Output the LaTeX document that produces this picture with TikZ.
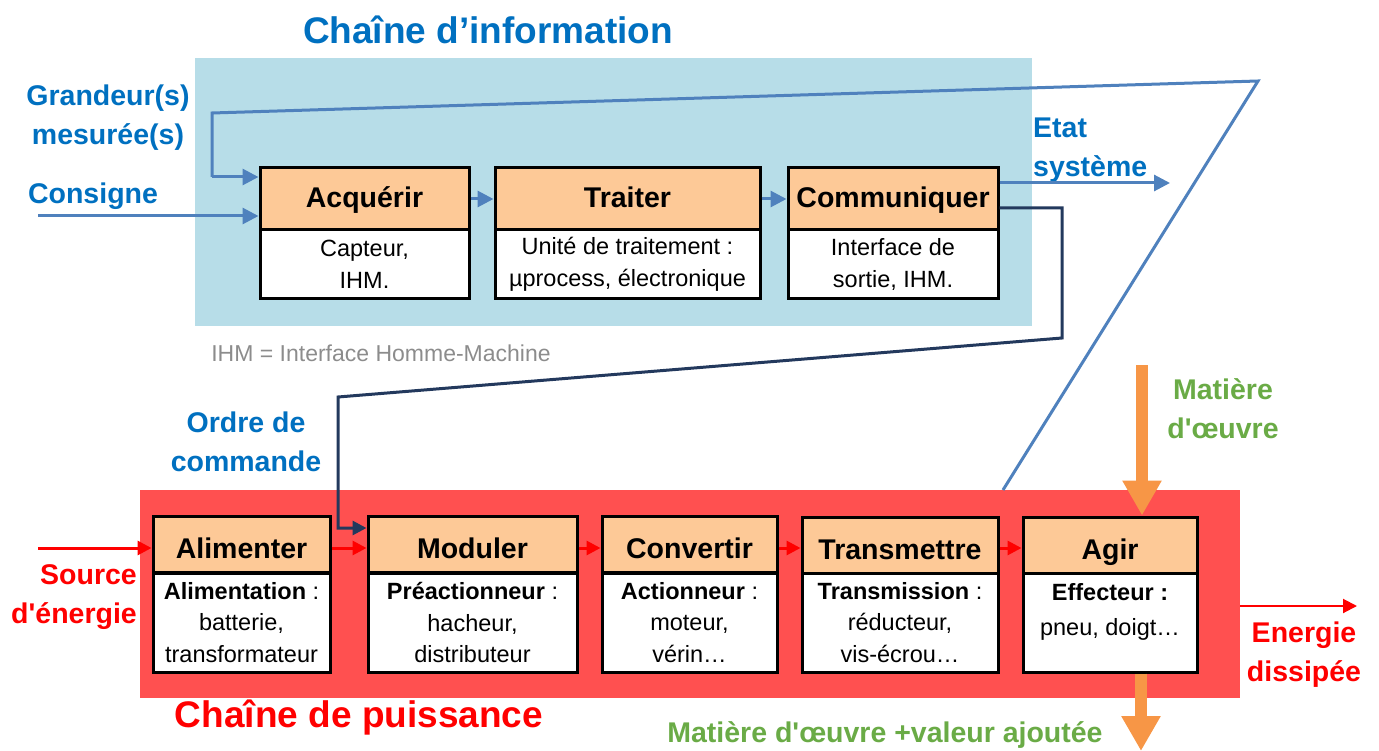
\documentclass[tikz,border=0pt]{standalone}
\usepackage{fontspec}
\setmainfont{Liberation Sans}[Ligatures=TeXOff]
\usetikzlibrary{arrows.meta}
\definecolor{tblue}{HTML}{0070C0}
\definecolor{ablue}{HTML}{4F81BD}
\definecolor{navy}{HTML}{23395D}
\definecolor{infobg}{HTML}{B7DDE8}
\definecolor{pwrbg}{HTML}{FF5050}
\definecolor{hdrfill}{HTML}{FDC997}
\definecolor{tgreen}{HTML}{6AAB46}
\definecolor{orng}{HTML}{F79646}
\definecolor{tred}{HTML}{FF0000}
\definecolor{tgray}{HTML}{8C8C8C}
\begin{document}
\begin{tikzpicture}[x=1pt,y=-1pt,
  hdr/.style={draw=black,line width=3pt,fill=hdrfill,inner sep=0pt,minimum height=62,
    text height=22pt,text depth=5.6pt,
    font=\fontsize{28.5}{34}\selectfont\bfseries},
  hdrb/.style={hdr,minimum height=56,text height=30pt,text depth=1.6pt},
  bdy/.style={draw=black,line width=3pt,fill=white,inner sep=0pt,align=center,
    font=\fontsize{23.5}{31.5}\selectfont},
  lbl/.style={inner sep=0pt,align=center,font=\fontsize{28.5}{39}\selectfont\bfseries},
  ttl/.style={inner sep=0pt,font=\fontsize{37}{44}\selectfont\bfseries},
  barrow/.style={draw=ablue,line width=3pt,-{Triangle[length=16pt,width=16pt]}},
  bline/.style={draw=ablue,line width=3pt,line join=miter},
  rarrow/.style={draw=tred,line width=3pt,-{Triangle[length=14pt,width=14pt]}},
  navyarrow/.style={draw=navy,line width=3pt,line join=miter,-{Triangle[length=14pt,width=14pt]}},
  oarrow/.style={draw=orng,line width=12pt,-{Triangle[length=35pt,width=37pt]}}
]
\useasboundingbox (0,0) rectangle (1379,751);

% backgrounds
\node[fill=infobg,minimum width=837,minimum height=268,inner sep=0pt] (info) at (613.5,192) {};
\node[fill=pwrbg,minimum width=1100,minimum height=208,inner sep=0pt] (pwr) at (690,594) {};

% titles
\node[ttl,text=tblue] (t1) at (488,30) {Chaîne d’information};
\node[ttl,text=tred] (t2) at (359,718) {Chaîne de puissance};

% information chain boxes
\node[hdr,minimum width=209] (acqH) at (364.5,199) {Acquérir};
\node[bdy,minimum width=209,minimum height=69] (acqB) at (364.5,264.5) {Capteur,\\IHM.};
\node[hdr,minimum width=265] (trtH) at (627.5,199) {Traiter};
\node[bdy,minimum width=265,minimum height=69] (trtB) at (627.5,264.5) {Unité de traitement :\\µprocess, électronique};
\node[hdr,minimum width=210] (comH) at (893,199) {Communiquer};
\node[bdy,minimum width=210,minimum height=69] (comB) at (893,264.5) {Interface de\\sortie, IHM.};

\node[inner sep=0pt,text=tgray,font=\fontsize{23}{26}\selectfont] (ihm) at (381,353) {IHM = Interface Homme-Machine};

% power chain boxes
\node[hdrb,minimum width=177] (aliH) at (241.5,544) {Alimenter};
\node[bdy,minimum width=177,minimum height=99] (aliB) at (241.5,622.5) {\textbf{Alimentation} :\\batterie,\\transformateur};
\node[hdrb,minimum width=209] (modH) at (472.5,544) {Moduler};
\node[bdy,minimum width=209,minimum height=99] (modB) at (472.5,622.5) {\textbf{Préactionneur} :\\hacheur,\\distributeur};
\node[hdrb,minimum width=175] (conH) at (689.5,544) {Convertir};
\node[bdy,minimum width=175,minimum height=99] (conB) at (689.5,622.5) {\textbf{Actionneur} :\\moteur,\\vérin…};
\node[hdrb,minimum width=196] (traH) at (900,545) {Transmettre};
\node[bdy,minimum width=196,minimum height=99] (traB) at (900,622.5) {\textbf{Transmission} :\\réducteur,\\vis-écrou…};
\node[hdrb,minimum width=174] (agiH) at (1110,545) {Agir};
\node[bdy,minimum width=174,minimum height=99] (agiB) at (1110,622.5) {\textbf{Effecteur :}\\[3.5pt]pneu, doigt…\\[-4.5pt]\mbox{}};

% labels
\node[lbl,text=tblue] (grand) at (108,118) {Grandeur(s)\\mesurée(s)};
\node[lbl,text=tblue] (cons) at (93,196) {Consigne};
\node[lbl,text=tblue,anchor=west,align=left] (etat) at (1033,150) {Etat\\système};
\node[lbl,text=tblue] (ordre) at (246,442) {Ordre de\\commande};
\node[lbl,text=tred,anchor=east,align=right] (src) at (137,597) {Source\\d'énergie};
\node[lbl,text=tred] (dissip) at (1304,655) {Energie\\dissipée};
\node[lbl,text=tgreen] (mo) at (1223,409) {Matière\\d'œuvre};
\node[lbl,text=tgreen] (mova) at (885,735) {Matière d'œuvre +valeur ajoutée};

% coordinates
\coordinate (consS) at (38,216);
\coordinate (fbA) at (1003,490);
\coordinate (fbB) at (1258,81);
\coordinate (fbC) at (212,113);
\coordinate (fbD) at (212,177);
\coordinate (etatE) at (1170,183);
\coordinate (nvA) at (1062,208);
\coordinate (nvB) at (1062,338);
\coordinate (nvC) at (338,397);
\coordinate (nvD) at (338,528);
\coordinate (srcS) at (38,548);
\coordinate (disE) at (1357,606);
\coordinate (moS) at (1142,365);
\coordinate (mvE) at (1141,751);

% information connectors
\draw[barrow] (acqH) -- (trtH);
\draw[barrow] (trtH) -- (comH);
\draw[barrow] (consS) -- (consS -| acqH.west);
\draw[bline] (fbA) -- (fbB) -- (fbC) -- (fbD);
\draw[barrow] (fbD) -- (fbD -| acqH.west);
\draw[barrow] (etatE -| comH.east) -- (etatE);
\draw[navyarrow] (nvA -| comH.east) -- (nvA) -- (nvB) -- (nvC) -- (nvD) -- (nvD -| modH.west);

% power connectors
\draw[rarrow] (srcS) -- (srcS -| aliH.west);
\draw[rarrow] (aliH.east |- srcS) -- (modH.west |- srcS);
\draw[rarrow] (modH.east |- srcS) -- (conH.west |- srcS);
\draw[rarrow] (conH.east |- srcS) -- (traH.west |- srcS);
\draw[rarrow] (traH.east |- srcS) -- (agiH.west |- srcS);
\draw[draw=tred,line width=2pt,-{Triangle[length=14pt,width=14pt]}] (disE -| pwr.east) -- (disE);

% matter flow
\draw[oarrow] (moS) -- (moS |- agiH.north);
\draw[oarrow] (mvE |- agiB.south) -- (mvE);
\end{tikzpicture}
\end{document}
